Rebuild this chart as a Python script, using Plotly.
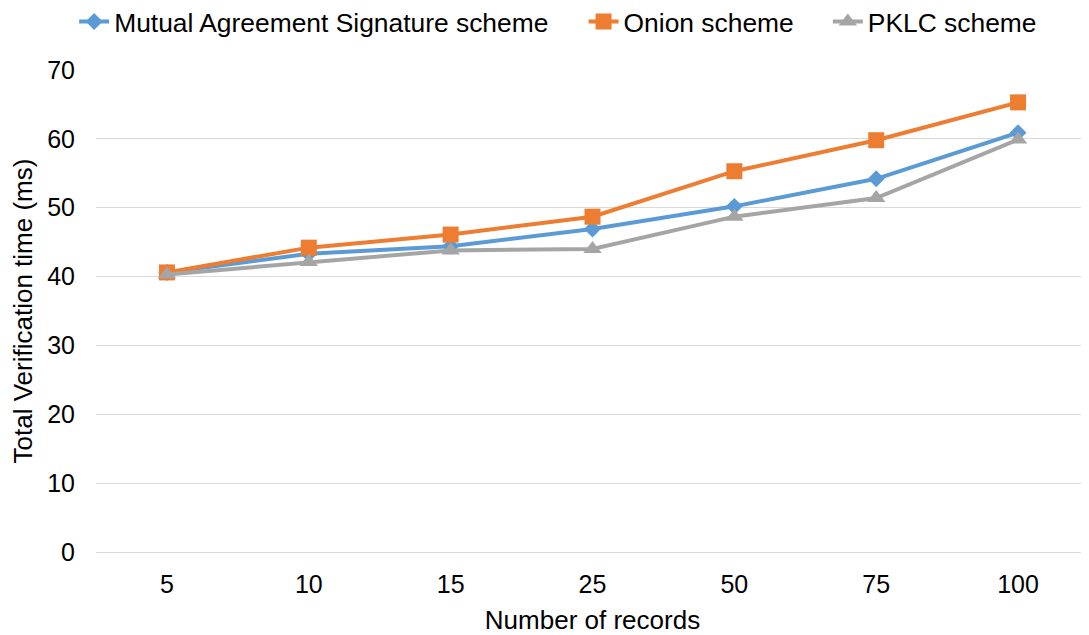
import plotly.graph_objects as go

categories = ["5", "10", "15", "25", "50", "75", "100"]
mutual = [40.6, 43.3, 44.4, 46.9, 50.2, 54.2, 60.9]
onion = [40.6, 44.2, 46.1, 48.7, 55.3, 59.8, 65.3]
pklc = [40.3, 42.1, 43.8, 44.0, 48.7, 51.4, 59.9]
y_ticks = [0, 10, 20, 30, 40, 50, 60, 70]

FONT = "Liberation Sans, Arial, sans-serif"

fig = go.Figure()
fig.add_trace(go.Scatter(x=categories, y=mutual, name="Mutual Agreement Signature scheme",
                         mode="lines+markers", legend="legend",
                         line=dict(color="#5B9BD5", width=4),
                         marker=dict(symbol="diamond", size=13, color="#5B9BD5")))
fig.add_trace(go.Scatter(x=categories, y=onion, name="Onion scheme",
                         mode="lines+markers", legend="legend2",
                         line=dict(color="#ED7D31", width=4),
                         marker=dict(symbol="square", size=16, color="#ED7D31")))
fig.add_trace(go.Scatter(x=categories, y=pklc, name="PKLC scheme",
                         mode="lines+markers", legend="legend3",
                         line=dict(color="#A5A5A5", width=4),
                         marker=dict(symbol="triangle-up", size=16, color="#A5A5A5")))

leg = dict(orientation="h", xanchor="left", y=1.1, yanchor="middle",
           font=dict(size=26.4), itemwidth=30, bgcolor="rgba(0,0,0,0)")

fig.update_layout(
    width=1089, height=635,
    margin=dict(l=88, r=8, t=62, b=91, autoexpand=False),
    paper_bgcolor="white", plot_bgcolor="white",
    font=dict(family=FONT, size=25, color="#000000"),
    showlegend=True,
    legend=dict(leg, x=-0.022),
    legend2=dict(leg, x=0.491),
    legend3=dict(leg, x=0.737),
    xaxis=dict(type="category", range=[-0.5, 6.5], showgrid=False, showline=False,
               automargin=False,
               ticks="", tickfont=dict(size=25), ticklabelstandoff=15,
               title=dict(text="Number of records", font=dict(size=26), standoff=13)),
    yaxis=dict(range=[0, 70], tickvals=y_ticks, showgrid=True, gridcolor="#D9D9D9",
               automargin=False,
               gridwidth=1, zeroline=True, zerolinecolor="#D9D9D9", zerolinewidth=1,
               showline=False, ticks="", tickfont=dict(size=25), ticklabelstandoff=20,
               title=dict(text="Total Verification time (ms)", font=dict(size=26), standoff=12)),
)

fig.write_html("out.html")
